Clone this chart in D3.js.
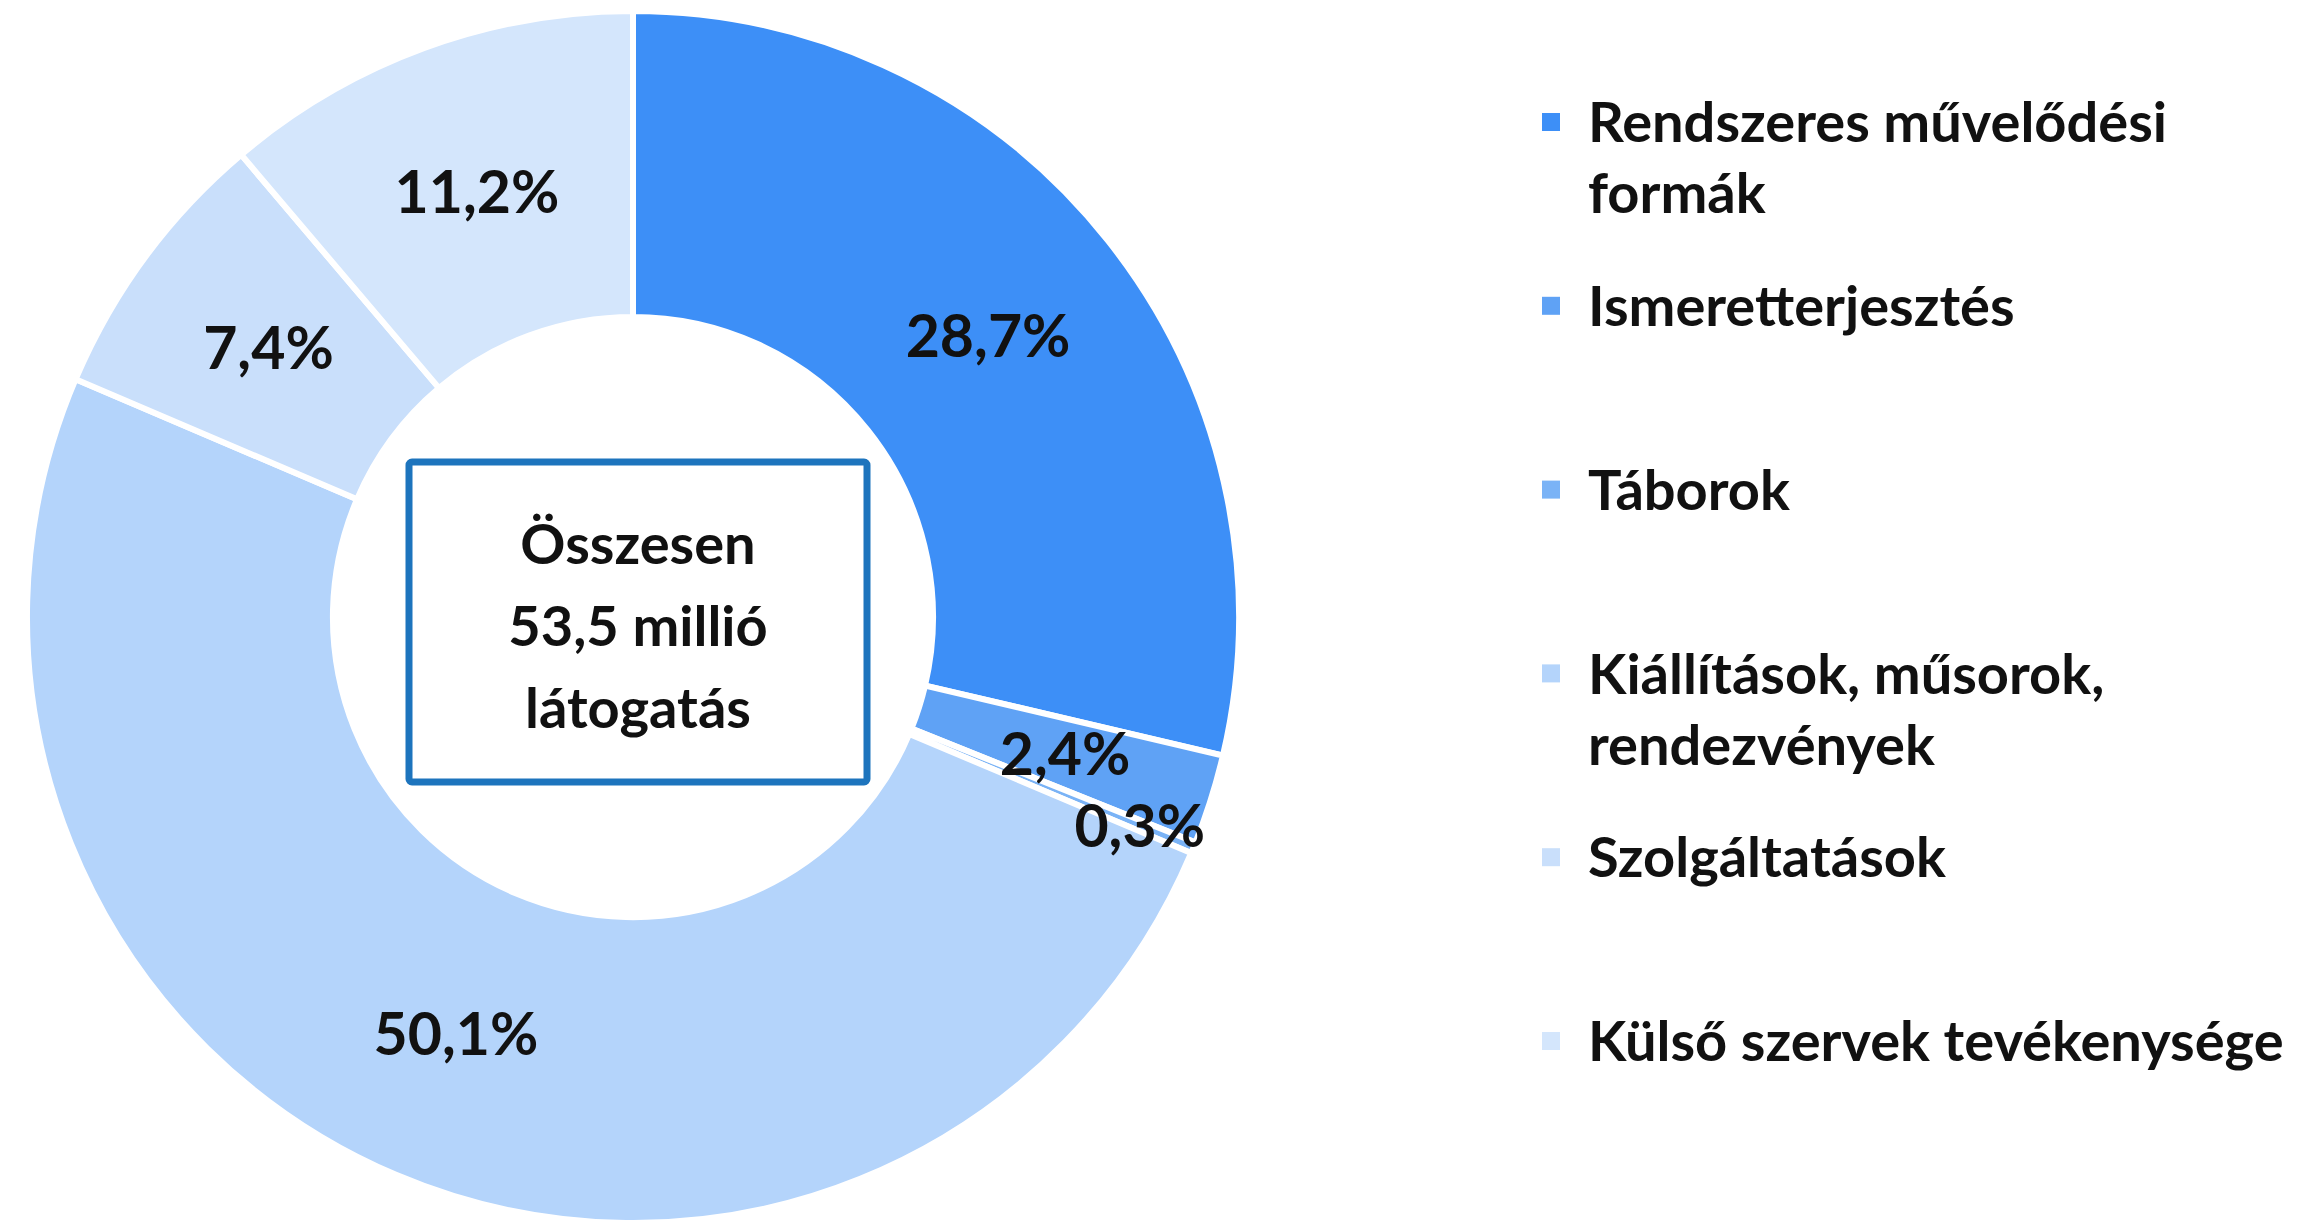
<!DOCTYPE html>
<html>
<head>
<meta charset="utf-8">
<script src="https://cdn.jsdelivr.net/npm/d3@7"></script>
<style>
  html, body { margin: 0; padding: 0; background: #fff; }
  svg text { font-family: Lato, "Open Sans", sans-serif; font-weight: 700; fill: #111; }
</style>
</head>
<body>
<svg id="chart" width="2305" height="1222"></svg>
<script>
// data (share of visits, %)
var categories = [
    "Rendszeres művelődési\nformák",
    "Ismeretterjesztés",
    "Táborok",
    "Kiállítások, műsorok,\nrendezvények",
    "Szolgáltatások",
    "Külső szervek tevékenysége"
]
var shares = [28.7, 2.4, 0.3, 50.1, 7.4, 11.2]
var colors = ["#3d8ff7", "#5fa2f5", "#7ab3f6", "#b4d4fb", "#c9dffb", "#d4e6fc"]
var totalLines = ["Összesen", "53,5 millió", "látogatás"]

var width = 2305,
    height = 1222

var cx = 633,
    cy = 617,
    outerR = 606,
    innerR = 300

var huFormat = d3.formatLocale({
    decimal: ",",
    thousands: " ",
    grouping: [3],
    currency: ["", " Ft"]
}).format(".1f")

var svg = d3.select("#chart")

var pie = d3.pie()
    .sort(null)
    .value(d => d.value)

var arcs = pie(shares.map((v, i) => ({ value: v, name: categories[i], color: colors[i] })))

var arc = d3.arc()
    .innerRadius(innerR)
    .outerRadius(outerR)

// labels sit at the middle of the ring, tiny slices pushed outward
var labelArc = d3.arc()
    .innerRadius((innerR + outerR) / 2)
    .outerRadius((innerR + outerR) / 2)
var outsideArc = d3.arc()
    .innerRadius(548)
    .outerRadius(548)

var g = svg.append("g")
    .attr("transform", `translate(${cx},${cy})`)

g.selectAll("path.slice")
    .data(arcs)
    .enter()
    .append("path")
    .attr("class", "slice")
    .attr("d", arc)
    .attr("fill", d => d.data.color)
    .attr("stroke", "#fff")
    .attr("stroke-width", 6)

g.selectAll("text.pct")
    .data(arcs)
    .enter()
    .append("text")
    .attr("class", "pct")
    .attr("transform", d => {
        var p = d.data.value < 1 ? outsideArc.centroid(d) : labelArc.centroid(d)
        return `translate(${p[0]},${p[1]})`
    })
    .attr("text-anchor", "middle")
    .attr("dy", "0.36em")
    .style("font-size", "59px")
    .text(d => huFormat(d.data.value) + "%")

// centre box
g.append("rect")
    .attr("x", -224)
    .attr("y", -155)
    .attr("width", 458)
    .attr("height", 320)
    .attr("rx", 3)
    .attr("fill", "#fff")
    .attr("stroke", "#1d74bd")
    .attr("stroke-width", 7)

g.selectAll("text.total")
    .data(totalLines)
    .enter()
    .append("text")
    .attr("class", "total")
    .attr("x", 5)
    .attr("y", (d, i) => 9 + (i - 1) * 82)
    .attr("dy", "0.36em")
    .attr("text-anchor", "middle")
    .style("font-size", "56px")
    .text(d => d)

// legend
var legendY = d3.scalePoint()
    .domain(d3.range(categories.length))
    .range([122, 1041])

var legend = svg.append("g")
    .selectAll("g")
    .data(categories)
    .enter()
    .append("g")
    .attr("transform", (d, i) => `translate(1542,${legendY(i)})`)

legend.append("rect")
    .attr("x", 0)
    .attr("y", -9)
    .attr("width", 18)
    .attr("height", 18)
    .attr("fill", (d, i) => colors[i])

legend.append("text")
    .style("font-size", "56px")
    .selectAll("tspan")
    .data(d => d.split("\n"))
    .enter()
    .append("tspan")
    .attr("x", 46)
    .attr("y", (d, i) => i * 71)
    .attr("dy", "0.36em")
    .text(d => d)
</script>
</body>
</html>
